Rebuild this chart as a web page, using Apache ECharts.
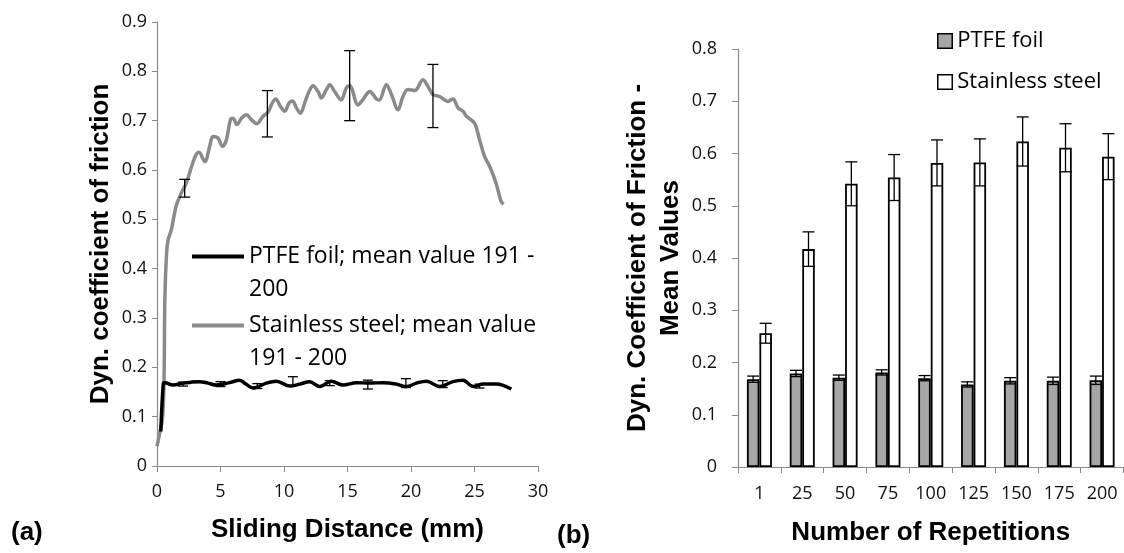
<!DOCTYPE html>
<html>
<head>
<meta charset="utf-8">
<script src="https://cdn.jsdelivr.net/npm/echarts@6/dist/echarts.min.js"></script>
<style>
  html, body { margin: 0; padding: 0; background: #fff; }
  #main { width: 1124px; height: 553px; }
</style>
</head>
<body>
<div id="main"></div>
<script>
// (a) friction curves, [distance mm, coefficient]
var ptfeCurve = [[0.3,0.07],[0.5,0.168],[0.61,0.169],[1.26,0.164],[2.05,0.168],[2.7,0.17],[3.36,0.171],[4.0,0.168],[4.68,0.164],
  [5.72,0.169],[6.51,0.174],[7.0,0.166],[7.56,0.158],[8.61,0.168],[9.4,0.172],[10.45,0.162],[11.24,0.166],[12.02,0.171],
  [12.81,0.161],[13.73,0.172],[14.65,0.164],[15.7,0.169],[16.75,0.168],[17.8,0.169],[18.85,0.166],[19.64,0.161],[20.43,0.168],
  [21.2,0.172],[22.26,0.161],[23.3,0.171],[24.1,0.174],[24.9,0.161],[25.7,0.166],[26.7,0.166],[27.2,0.164],[27.9,0.156]];
var steelCurve = [[0,0.04],[0.21,0.066],[0.42,0.093],[0.55,0.17],[0.62,0.34],[0.75,0.43],[0.87,0.458],[1.13,0.479],[1.5,0.526],
  [1.9,0.553],[2.3,0.573],[2.6,0.597],[3.0,0.627],[3.3,0.636],[3.76,0.617],[4.15,0.648],[4.4,0.668],[4.8,0.665],[5.15,0.648],
  [5.46,0.661],[5.78,0.702],[5.98,0.705],[6.3,0.692],[6.65,0.705],[7.04,0.712],[7.43,0.702],[7.87,0.694],[8.35,0.709],
  [8.74,0.717],[9.08,0.736],[9.35,0.744],[9.72,0.729],[10.06,0.719],[10.4,0.736],[10.66,0.74],[10.98,0.726],[11.29,0.715],
  [11.63,0.736],[11.97,0.759],[12.28,0.771],[12.68,0.759],[12.94,0.746],[13.34,0.763],[13.6,0.773],[13.99,0.759],[14.5,0.742],
  [14.9,0.766],[15.17,0.771],[15.83,0.732],[16.2,0.742],[16.75,0.759],[17.28,0.744],[17.5,0.742],[18.06,0.773],[18.46,0.753],
  [18.98,0.722],[19.37,0.749],[19.76,0.763],[20.3,0.761],[20.94,0.783],[21.34,0.769],[21.73,0.753],[22.26,0.749],[22.9,0.739],
  [23.3,0.744],[23.7,0.726],[24.1,0.719],[24.36,0.709],[25.0,0.695],[25.4,0.661],[25.8,0.627],[26.2,0.607],[26.7,0.573],
  [27.1,0.536],[27.3,0.531]];
var ptfeErrX = [2.05, 5.0, 7.9, 10.7, 13.6, 16.6, 19.6, 22.5, 25.4];
var ptfeErrMean = [0.166, 0.166, 0.162, 0.172, 0.168, 0.165, 0.168, 0.166, 0.162];
var ptfeErrSize = [0.004, 0.005, 0.005, 0.009, 0.005, 0.009, 0.009, 0.007, 0.004];
var steelErrX = [2.18, 8.69, 15.17, 21.73];
var steelErrMean = [0.563, 0.714, 0.771, 0.75];
var steelErrSize = [0.018, 0.047, 0.071, 0.064];

// (b) mean values per repetition count
var repetitions = ['1', '25', '50', '75', '100', '125', '150', '175', '200'];
var ptfeMean = [0.168, 0.179, 0.171, 0.181, 0.170, 0.158, 0.165, 0.165, 0.166];
var ptfeErr = [0.006, 0.006, 0.005, 0.005, 0.005, 0.005, 0.006, 0.007, 0.008];
var steelMean = [0.256, 0.417, 0.542, 0.554, 0.582, 0.583, 0.623, 0.611, 0.594];
var steelErr = [0.019, 0.033, 0.042, 0.044, 0.044, 0.045, 0.047, 0.046, 0.044];

var nameA = 'PTFE foil; mean value 191 - 200';
var nameB = 'Stainless steel; mean value 191 - 200';

var axisGray = '#898989';
var tickFont = { fontFamily: 'Open Sans', fontSize: 18, color: '#111' };
var titleFont = { fontFamily: 'Liberation Sans', fontSize: 26, fontWeight: 'bold', color: '#000', lineHeight: 33 };

function errItems(xs, means, sizes) {
  return xs.map(function (x, i) { return [x, means[i] - sizes[i], means[i] + sizes[i]]; });
}
function catErrItems(means, sizes) {
  return means.map(function (m, i) { return [i, m - sizes[i], m + sizes[i]]; });
}
function errRender(capHalf, dx) {
  return function (params, api) {
    var x = api.value(0);
    var lo = api.coord([x, api.value(1)]);
    var hi = api.coord([x, api.value(2)]);
    var cx = lo[0] + dx;
    var st = { stroke: '#000', lineWidth: 1.3 };
    return {
      type: 'group',
      children: [
        { type: 'line', shape: { x1: cx, y1: hi[1], x2: cx, y2: lo[1] }, style: st },
        { type: 'line', shape: { x1: cx - capHalf, y1: hi[1], x2: cx + capHalf, y2: hi[1] }, style: st },
        { type: 'line', shape: { x1: cx - capHalf, y1: lo[1], x2: cx + capHalf, y2: lo[1] }, style: st }
      ]
    };
  };
}

var myChart = echarts.init(document.getElementById('main'));

var option = {
  animation: false,
  backgroundColor: '#fff',
  grid: [
    { left: 157, top: 22, width: 381, height: 444, outerBoundsMode: 'none' },
    { left: 738, top: 49, width: 385.5, height: 418, outerBoundsMode: 'none' }
  ],
  legend: [
    {
      // empty leading line keeps the line sample level with the first text line
      orient: 'vertical', left: 187, top: 202, itemWidth: 52, itemHeight: 4, itemGap: -30,
      icon: 'rect', data: [nameA, nameB],
      formatter: function (n) {
        return n === nameA ? ' \nPTFE foil; mean value 191 -\n200' : ' \nStainless steel; mean value\n191 - 200';
      },
      textStyle: { fontFamily: 'Open Sans', fontSize: 23, color: '#000', lineHeight: 33 }
    },
    {
      orient: 'vertical', left: 932, top: 23, itemWidth: 14.5, itemHeight: 14.5, itemGap: 15,
      icon: 'rect', data: ['PTFE foil', 'Stainless steel'],
      itemStyle: { borderColor: '#000', borderWidth: 1.5 },
      textStyle: { fontFamily: 'Open Sans', fontSize: 22, color: '#000', lineHeight: 26 }
    }
  ],
  xAxis: [
    {
      gridIndex: 0, type: 'value', min: 0, max: 30, interval: 5,
      name: 'Sliding Distance (mm)', nameLocation: 'middle', nameGap: 47, nameTextStyle: titleFont,
      axisLine: { show: true, onZero: false, lineStyle: { color: axisGray, width: 1.2 } },
      axisTick: { show: true, length: 6, lineStyle: { color: axisGray } },
      axisLabel: Object.assign({ margin: 17 }, tickFont),
      splitLine: { show: false }
    },
    {
      gridIndex: 1, type: 'category', data: repetitions,
      name: 'Number of Repetitions', nameLocation: 'middle', nameGap: 49, nameTextStyle: titleFont,
      axisLine: { show: true, lineStyle: { color: axisGray, width: 1.2 } },
      axisTick: { show: true, length: 6, alignWithLabel: false, lineStyle: { color: axisGray } },
      axisLabel: Object.assign({ margin: 18, interval: 0 }, tickFont),
      splitLine: { show: false }
    }
  ],
  yAxis: [
    {
      gridIndex: 0, type: 'value', min: 0, max: 0.9, interval: 0.1,
      name: 'Dyn. coefficient of friction', nameLocation: 'middle', nameGap: 33, nameTextStyle: titleFont,
      axisLine: { show: true, lineStyle: { color: axisGray, width: 1.2 } },
      axisTick: { show: true, length: 5, lineStyle: { color: axisGray } },
      axisLabel: Object.assign({ margin: 10, formatter: function (v) { return String(+v.toFixed(1)); } }, tickFont),
      splitLine: { show: false }
    },
    {
      gridIndex: 1, type: 'value', min: 0, max: 0.8, interval: 0.1,
      name: 'Dyn. Coefficient of Friction -\nMean Values', nameLocation: 'middle', nameGap: 50, nameTextStyle: titleFont,
      axisLine: { show: true, lineStyle: { color: axisGray, width: 1.2 } },
      axisTick: { show: true, length: 6, lineStyle: { color: axisGray } },
      axisLabel: Object.assign({ margin: 21, formatter: function (v) { return String(+v.toFixed(1)); } }, tickFont),
      splitLine: { show: false }
    }
  ],
  graphic: [
    { type: 'text', left: 11, top: 520, style: { text: '(a)', font: 'bold 26px "Liberation Sans"', fill: '#000' } },
    { type: 'text', left: 557, top: 523, style: { text: '(b)', font: 'bold 26px "Liberation Sans"', fill: '#000' } }
  ],
  series: [
    {
      name: nameA, type: 'line', xAxisIndex: 0, yAxisIndex: 0, data: ptfeCurve, color: '#000',
      showSymbol: false, smooth: 0.35, lineStyle: { color: '#000', width: 3.5 }, z: 3
    },
    {
      name: nameB, type: 'line', xAxisIndex: 0, yAxisIndex: 0, data: steelCurve, color: '#8a8a8a',
      showSymbol: false, smooth: 0.35, lineStyle: { color: '#8a8a8a', width: 3.5 }, z: 2
    },
    {
      type: 'custom', xAxisIndex: 0, yAxisIndex: 0, data: errItems(ptfeErrX, ptfeErrMean, ptfeErrSize),
      encode: { x: 0, y: [1, 2] }, renderItem: errRender(5, 0), z: 5, silent: true
    },
    {
      type: 'custom', xAxisIndex: 0, yAxisIndex: 0, data: errItems(steelErrX, steelErrMean, steelErrSize),
      encode: { x: 0, y: [1, 2] }, renderItem: errRender(5.5, 0), z: 5, silent: true
    },
    {
      name: 'PTFE foil', type: 'bar', xAxisIndex: 1, yAxisIndex: 1, data: ptfeMean, color: '#a6a6a6',
      barWidth: 12.5, barGap: '0%',
      itemStyle: { color: '#a6a6a6', borderColor: '#000', borderWidth: 1.8 }
    },
    {
      name: 'Stainless steel', type: 'bar', xAxisIndex: 1, yAxisIndex: 1, data: steelMean, color: '#fff',
      barWidth: 12.5, barGap: '0%',
      itemStyle: { color: '#fff', borderColor: '#000', borderWidth: 1.8 }
    },
    {
      type: 'custom', xAxisIndex: 1, yAxisIndex: 1, data: catErrItems(ptfeMean, ptfeErr),
      encode: { x: 0, y: [1, 2] }, renderItem: errRender(6, -6.25), z: 5, silent: true
    },
    {
      type: 'custom', xAxisIndex: 1, yAxisIndex: 1, data: catErrItems(steelMean, steelErr),
      encode: { x: 0, y: [1, 2] }, renderItem: errRender(6, 6.25), z: 5, silent: true
    }
  ]
};

if (option && typeof option === 'object') {
  myChart.setOption(option);
}
</script>
</body>
</html>
